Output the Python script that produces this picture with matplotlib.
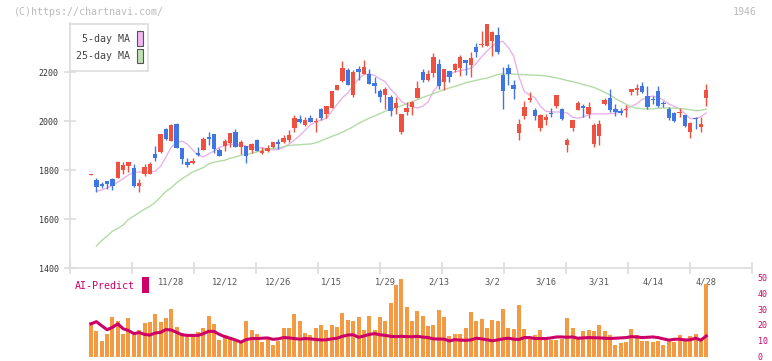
import numpy as np
import matplotlib.pyplot as plt
from matplotlib.patches import Rectangle

# daily candles (oldest -> newest)
opens = [1781, 1759, 1743, 1755, 1763, 1766, 1800, 1818, 1810, 1736,
         1785, 1785, 1865, 1875, 1967, 1920, 1988, 1888, 1833, 1830,
         1871, 1882, 1936, 1947, 1882, 1899, 1912, 1954, 1895, 1898,
         1882, 1922, 1868, 1878, 1895, 1913, 1913, 1922, 1973, 2008,
         1984, 2013, 1996, 2049, 2027, 2054, 2127, 2163, 2208, 2106,
         2212, 2192, 2192, 2154, 2122, 2106, 2099, 2054, 1957, 2035,
         2059, 2095, 2199, 2167, 2197, 2233, 2161, 2204, 2208, 2218,
         2249, 2229, 2303, 2312, 2307, 2327, 2351, 2188, 2218, 2147,
         1952, 2020, 2086, 2045, 1973, 2004, 2034, 2063, 2048, 1902,
         1973, 2045, 2063, 2029, 1905, 1939, 2069, 2095, 2049, 2041,
         2046, 2120, 2127, 2143, 2102, 2088, 2122, 2071, 2048, 2034,
         2033, 2024, 1956, 2009, 1977, 2093]
highs = [1784, 1766, 1752, 1757, 1769, 1838, 1834, 1834, 1826, 1763,
         1823, 1834, 1898, 1947, 1973, 1988, 1990, 1888, 1848, 1848,
         1893, 1936, 1956, 1948, 1891, 1925, 1950, 1967, 1922, 1900,
         1912, 1927, 1895, 1902, 1914, 1927, 1943, 1965, 2024, 2024,
         2018, 2024, 2011, 2052, 2063, 2123, 2148, 2245, 2215, 2208,
         2226, 2249, 2212, 2181, 2131, 2137, 2106, 2099, 2029, 2076,
         2082, 2163, 2212, 2208, 2276, 2253, 2213, 2205, 2238, 2269,
         2250, 2283, 2317, 2367, 2396, 2367, 2382, 2222, 2233, 2167,
         2008, 2082, 2117, 2052, 2030, 2027, 2054, 2107, 2054, 1929,
         2005, 2082, 2069, 2076, 1990, 2004, 2093, 2131, 2069, 2054,
         2065, 2131, 2151, 2158, 2143, 2103, 2143, 2083, 2056, 2038,
         2052, 2025, 1997, 2018, 2015, 2151]
lows = [1780, 1712, 1725, 1722, 1720, 1766, 1782, 1793, 1731, 1709,
        1777, 1785, 1838, 1871, 1922, 1917, 1888, 1826, 1814, 1825,
        1859, 1880, 1902, 1871, 1857, 1878, 1893, 1893, 1865, 1830,
        1868, 1877, 1866, 1875, 1889, 1886, 1911, 1915, 1957, 1993,
        1980, 1995, 1957, 2004, 2014, 2052, 2126, 2160, 2145, 2099,
        2167, 2190, 2149, 2113, 2076, 2049, 2022, 2030, 1946, 2025,
        2025, 2093, 2161, 2165, 2181, 2131, 2127, 2161, 2199, 2184,
        2188, 2181, 2263, 2303, 2305, 2267, 2273, 2049, 2147, 2090,
        1922, 2008, 2079, 2004, 1959, 1984, 2018, 2052, 2004, 1872,
        1959, 2043, 2018, 2011, 1895, 1902, 2065, 2038, 2022, 2025,
        2015, 2106, 2106, 2113, 2049, 2069, 2056, 2056, 2004, 1995,
        2018, 1977, 1932, 1966, 1956, 2061]
closes = [1782, 1732, 1735, 1744, 1736, 1834, 1820, 1833, 1735, 1747,
          1812, 1824, 1848, 1947, 1927, 1984, 1888, 1843, 1822, 1838,
          1861, 1926, 1928, 1886, 1859, 1918, 1950, 1895, 1913, 1859,
          1906, 1879, 1878, 1891, 1913, 1905, 1929, 1942, 2013, 1997,
          2004, 1997, 2000, 2014, 2062, 2122, 2147, 2215, 2147, 2199,
          2201, 2219, 2151, 2144, 2099, 2131, 2042, 2072, 2029, 2052,
          2076, 2136, 2167, 2190, 2260, 2144, 2212, 2181, 2233, 2263,
          2238, 2259, 2283, 2316, 2395, 2362, 2283, 2122, 2190, 2131,
          1988, 2058, 2095, 2022, 2024, 2018, 2027, 2106, 2008, 1922,
          2004, 2072, 2054, 2056, 1984, 1988, 2086, 2045, 2035, 2031,
          2048, 2131, 2136, 2120, 2056, 2086, 2061, 2069, 2011, 2000,
          2036, 1980, 1993, 2007, 1988, 2127]

# moving averages as drawn on the chart
ma5 = [np.nan, 1714, 1718, 1727, 1736, 1751, 1764, 1780, 1790, 1792,
       1792, 1792, 1795, 1815, 1853, 1894, 1912, 1918, 1906, 1882,
       1862, 1853, 1866, 1878, 1892, 1900, 1906, 1904, 1902, 1897,
       1894, 1892, 1890, 1885, 1882, 1884, 1892, 1906, 1922, 1940,
       1962, 1984, 1996, 2004, 2010, 2040, 2068, 2095, 2114, 2145,
       2171, 2190, 2192, 2186, 2172, 2160, 2130, 2108, 2080, 2068,
       2058, 2053, 2060, 2078, 2120, 2150, 2178, 2192, 2200, 2206,
       2210, 2215, 2235, 2262, 2285, 2305, 2322, 2325, 2300, 2265,
       2180, 2120, 2106, 2094, 2060, 2040, 2037, 2037, 2036, 2033,
       2015, 2012, 2016, 2026, 2029, 2029, 2029, 2030, 2032, 2037,
       2050, 2060, 2070, 2088, 2096, 2102, 2096, 2085, 2070, 2060,
       2050, 2030, 2010, 2010, 2018, 2033]
ma25 = [np.nan, 1490, 1512, 1530, 1550, 1562, 1575, 1598, 1612, 1626,
        1640, 1652, 1668, 1690, 1712, 1728, 1748, 1764, 1778, 1792,
        1801, 1810, 1825, 1832, 1836, 1840, 1848, 1853, 1860, 1864,
        1868, 1874, 1880, 1884, 1888, 1890, 1895, 1900, 1902, 1903,
        1905, 1906, 1911, 1919, 1928, 1937, 1945, 1955, 1965, 1977,
        1990, 2001, 2012, 2021, 2030, 2040, 2048, 2055, 2062, 2070,
        2078, 2087, 2096, 2104, 2112, 2120, 2128, 2135, 2141, 2148,
        2156, 2161, 2166, 2171, 2175, 2182, 2190, 2192, 2192, 2191,
        2190, 2189, 2188, 2187, 2186, 2184, 2180, 2176, 2171, 2165,
        2161, 2155, 2149, 2143, 2137, 2128, 2117, 2106, 2092, 2080,
        2068, 2058, 2052, 2050, 2049, 2050, 2052, 2053, 2053, 2052,
        2051, 2049, 2046, 2042, 2043, 2049]

# AI-Predict panel
ai_bars = [22.1, 15.9, 10.1, 14.5, 25.2, 22.7, 14.5, 24.6, 13.4, 16.5,
           21.3, 21.9, 26.9, 21.7, 24.6, 30.0, 19.0, 15.1, 13.8, 13.8,
           15.7, 18.4, 25.6, 20.7, 10.7, 13.4, 12.4, 9.7, 8.3, 22.7,
           17.1, 14.0, 9.1, 12.0, 7.2, 9.9, 18.4, 18.4, 26.9, 22.7,
           14.7, 13.4, 18.4, 20.2, 16.5, 20.0, 18.6, 27.7, 23.1, 22.7,
           25.2, 16.9, 25.6, 16.9, 24.8, 22.7, 33.7, 45.5, 49.2, 31.4,
           22.7, 28.7, 25.8, 19.6, 20.0, 29.3, 25.2, 12.8, 14.0, 14.0,
           18.4, 28.3, 22.7, 23.8, 18.4, 23.1, 22.7, 30.0, 18.4, 17.6,
           32.4, 17.6, 11.4, 13.4, 16.9, 10.7, 10.7, 10.7, 11.4, 24.4,
           18.4, 12.4, 16.3, 16.9, 16.3, 20.0, 16.3, 13.4, 7.6, 8.3,
           8.9, 17.6, 13.4, 10.1, 10.1, 9.5, 10.1, 7.0, 11.4, 8.9,
           13.4, 11.4, 12.8, 14.0, 10.7, 45.9]
ai_line = [20.7, 22.1, 19.5, 17.0, 18.5, 20.7, 17.6, 16.5, 14.5, 15.2,
           14.0, 13.6, 14.9, 15.3, 17.1, 16.8, 15.3, 13.8, 13.4, 13.4,
           13.4, 14.5, 16.0, 15.9, 14.0, 12.6, 11.6, 10.5, 9.1, 10.7,
           11.4, 11.4, 11.6, 11.8, 10.9, 11.2, 12.0, 11.8, 11.4, 11.0,
           11.4, 11.2, 10.8, 10.5, 10.6, 11.2, 11.6, 12.8, 13.6, 13.8,
           12.2, 13.0, 14.0, 14.5, 13.8, 13.4, 12.8, 12.6, 12.8, 12.6,
           12.5, 12.8, 12.3, 12.0, 11.2, 11.1, 11.0, 9.9, 10.7, 10.4,
           10.3, 10.5, 11.6, 11.2, 10.6, 10.0, 10.5, 11.2, 11.6, 11.0,
           10.8, 12.0, 12.0, 11.4, 11.4, 11.4, 11.8, 12.4, 12.4, 12.2,
           12.4, 11.6, 11.8, 12.0, 11.9, 11.8, 11.6, 11.4, 11.6, 11.8,
           12.0, 12.6, 12.4, 12.0, 12.2, 12.4, 12.0, 11.2, 10.4, 10.9,
           11.0, 10.5, 10.6, 11.6, 10.4, 13.0]

date_labels = ['11/28', '12/12', '12/26', '1/15', '1/29', '2/13',
               '3/2', '3/16', '3/31', '4/14', '4/28']
date_pos = [15, 25, 35, 45, 55, 65, 75, 85, 95, 105, 115]

UP = '#ef5140'
DOWN = '#3f76e4'
GRID = '#dddddd'
AI = '#cc0066'
MONO = 'DejaVu Sans Mono'

W, H = 772, 361
fig = plt.figure(figsize=(W / 100, H / 100), dpi=100)

x = np.arange(len(closes))
xlim = (-3.93, 123.55)

# price panel
ax = fig.add_axes([70 / W, 1 - 268 / H, 682 / W, 245 / H])
o = np.array(opens)
c = np.array(closes)
col = [UP if cc >= oo else DOWN for oo, cc in zip(o, c)]
ax.vlines(x, lows, highs, colors=col, lw=1.0, zorder=2)
body = np.maximum(np.abs(c - o), 4)
ax.bar(x, body, bottom=np.minimum(o, c), width=0.82, color=col, zorder=3)
ax.plot(x, ma5, color='#e9b3ea', lw=1.0, zorder=1)
ax.plot(x, ma25, color='#b3dba6', lw=1.0, zorder=1)

ax.set_xlim(*xlim)
ax.set_ylim(1400, 2400)
ax.set_yticks([1400, 1600, 1800, 2000, 2200])
ax.set_xticks(np.linspace(xlim[0], xlim[1], 12))
ax.set_xticklabels([])
for s in ['top', 'right']:
    ax.spines[s].set_visible(False)
for s in ['left', 'bottom']:
    ax.spines[s].set_color(GRID)
    ax.spines[s].set_linewidth(1.2)
ax.tick_params(axis='both', direction='inout', length=8, width=1.2, color=GRID)
ax.tick_params(axis='y', labelsize=6, labelcolor='#333333', pad=4)
for t in ax.get_yticklabels():
    t.set_family(MONO)

for p, lab in zip(date_pos, date_labels):
    ax.text(p, -0.057, lab, transform=ax.get_xaxis_transform(), ha='center',
            va='center', fontsize=6.3, color='#555555', family=MONO)

# AI-Predict panel
ax2 = fig.add_axes([70 / W, 1 - 356.5 / H, 682 / W, 78.8 / H])
ax2.bar(x, ai_bars, width=0.75, color='#f39a42', zorder=1)
ax2.plot(x, ai_line, color=AI, lw=2.2, zorder=2)
ax2.set_xlim(*xlim)
ax2.set_ylim(0, 50)
ax2.set_xticks([])
ax2.set_yticks([0, 10, 20, 30, 40, 50])
ax2.yaxis.tick_right()
ax2.tick_params(axis='y', length=0, labelsize=6, labelcolor=AI, pad=4)
for t in ax2.get_yticklabels():
    t.set_family(MONO)
for s in ax2.spines.values():
    s.set_visible(False)
ax2.patch.set_alpha(0)

# legend box
fig.patches.append(Rectangle((70 / W, 1 - 71 / H), 78 / W, 47 / H,
                             transform=fig.transFigure, facecolor='white',
                             edgecolor=GRID, lw=1.2, zorder=5))
fig.patches.append(Rectangle((137 / W, 1 - 46 / H), 6 / W, 15 / H,
                             transform=fig.transFigure, facecolor='#f0b8f0',
                             edgecolor='#555555', lw=0.8, zorder=6))
fig.patches.append(Rectangle((137 / W, 1 - 63 / H), 6 / W, 14 / H,
                             transform=fig.transFigure, facecolor='#bfe0b4',
                             edgecolor='#555555', lw=0.8, zorder=6))
fig.text(130 / W, 1 - 39 / H, '5-day MA', ha='right', va='center', fontsize=7.2,
         color='#444444', family=MONO, zorder=7)
fig.text(130 / W, 1 - 56 / H, '25-day MA', ha='right', va='center', fontsize=7.2,
         color='#444444', family=MONO, zorder=7)

fig.text(14 / W, 1 - 12 / H, '(C)https://chartnavi.com/', ha='left', va='center',
         fontsize=7.2, color='#bbbbbb', family=MONO)
fig.text(757 / W, 1 - 12 / H, '1946', ha='right', va='center',
         fontsize=7.2, color='#bbbbbb', family=MONO)

fig.text(75 / W, 1 - 286 / H, 'AI-Predict', ha='left', va='center',
         fontsize=7.2, color=AI, family=MONO)
fig.patches.append(Rectangle((142 / W, 1 - 293 / H), 7 / W, 16 / H,
                             transform=fig.transFigure, facecolor=AI,
                             edgecolor='none', zorder=5))

fig.savefig('out.png', dpi=100)
